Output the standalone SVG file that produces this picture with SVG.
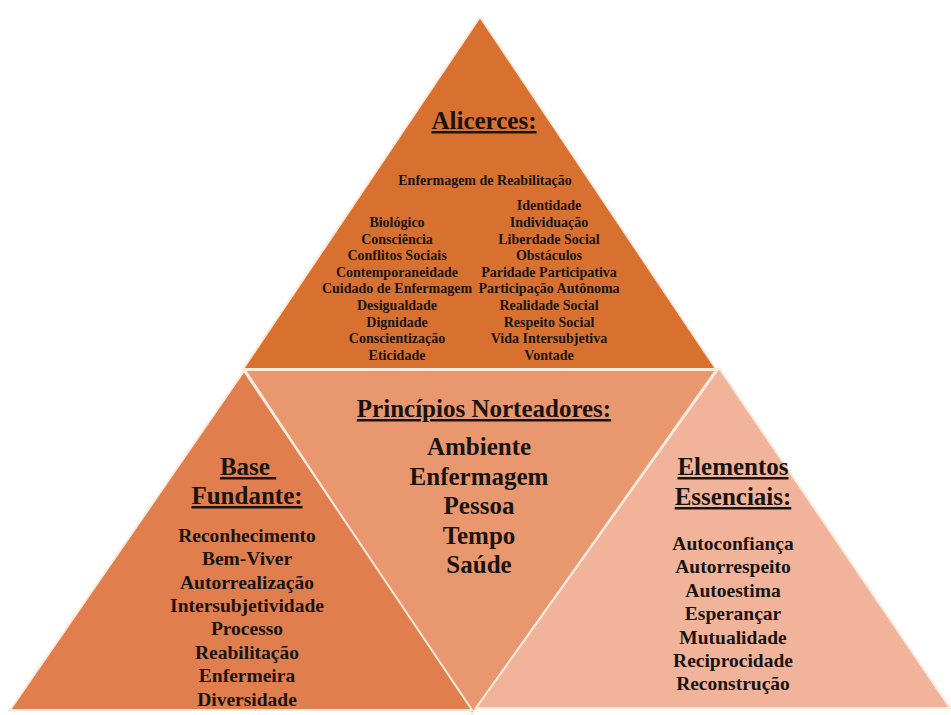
<svg xmlns="http://www.w3.org/2000/svg" width="951" height="715" viewBox="0 0 951 715">
  <style>
    .tri { stroke: #fdeadc; stroke-width: 2; stroke-linejoin: miter; }
    text { font-family: "Liberation Serif", "Times New Roman", serif; font-weight: bold; fill: #1a1410; text-anchor: middle; }
    .head { font-size: 25px; text-decoration: underline; }
    .big { font-size: 25px; }
    .mid { font-size: 19.5px; }
    .small { font-size: 14px; }
  </style>

  <rect width="951" height="715" fill="#ffffff"/>

  <!-- Centre: inverted triangle -->
  <g id="principios">
    <polygon class="tri" points="245,370 716,370 472,714" fill="#e8976f"/>
    <text class="head" x="484" y="417">Princípios Norteadores:</text>
    <text class="big" x="479" y="455">Ambiente</text>
    <text class="big" x="479" y="484.5">Enfermagem</text>
    <text class="big" x="479" y="514">Pessoa</text>
    <text class="big" x="479" y="543.5">Tempo</text>
    <text class="big" x="479" y="573">Saúde</text>
  </g>

  <!-- Top triangle -->
  <g id="alicerces">
    <polygon class="tri" points="480,17 243,369 716,369" fill="#d8712f"/>
    <text class="head" x="484" y="129">Alicerces:</text>
    <text class="small" x="485" y="184.5">Enfermagem de Reabilitação</text>
    <g class="left-col">
      <text class="small" x="397" y="227">Biológico</text>
      <text class="small" x="397" y="243.6">Consciência</text>
      <text class="small" x="397" y="260.2">Conflitos Sociais</text>
      <text class="small" x="397" y="276.8">Contemporaneidade</text>
      <text class="small" x="397" y="293.4">Cuidado de Enfermagem</text>
      <text class="small" x="397" y="310">Desigualdade</text>
      <text class="small" x="397" y="326.6">Dignidade</text>
      <text class="small" x="397" y="343.2">Conscientização</text>
      <text class="small" x="397" y="359.8">Eticidade</text>
    </g>
    <g class="right-col">
      <text class="small" x="549" y="210.4">Identidade</text>
      <text class="small" x="549" y="227">Individuação</text>
      <text class="small" x="549" y="243.6">Liberdade Social</text>
      <text class="small" x="549" y="260.2">Obstáculos</text>
      <text class="small" x="549" y="276.8">Paridade Participativa</text>
      <text class="small" x="549" y="293.4">Participação Autônoma</text>
      <text class="small" x="549" y="310">Realidade Social</text>
      <text class="small" x="549" y="326.6">Respeito Social</text>
      <text class="small" x="549" y="343.2">Vida Intersubjetiva</text>
      <text class="small" x="549" y="359.8">Vontade</text>
    </g>
  </g>

  <!-- Left triangle -->
  <g id="base-fundante">
    <polygon class="tri" points="244,371 10,710 472,710" fill="#e07e4e"/>
    <text class="head" x="248" y="475" style="white-space:pre">Base </text>
    <text class="head" x="247" y="504">Fundante:</text>
    <text class="mid" x="247" y="541.7">Reconhecimento</text>
    <text class="mid" x="247" y="565.1">Bem-Viver</text>
    <text class="mid" x="247" y="588.5">Autorrealização</text>
    <text class="mid" x="247" y="611.9">Intersubjetividade</text>
    <text class="mid" x="247" y="635.3">Processo</text>
    <text class="mid" x="247" y="658.7">Reabilitação</text>
    <text class="mid" x="247" y="682.1">Enfermeira</text>
    <text class="mid" x="247" y="705.5">Diversidade</text>
  </g>

  <!-- Right triangle -->
  <g id="elementos-essenciais">
    <polygon class="tri" points="719,368 476,708 950,708" fill="#f1b39a"/>
    <text class="head" x="733" y="475">Elementos</text>
    <text class="head" x="733" y="505">Essenciais:</text>
    <text class="mid" x="733" y="550">Autoconfiança</text>
    <text class="mid" x="733" y="573.4">Autorrespeito</text>
    <text class="mid" x="733" y="596.8">Autoestima</text>
    <text class="mid" x="733" y="620.2">Esperançar</text>
    <text class="mid" x="733" y="643.6">Mutualidade</text>
    <text class="mid" x="733" y="667">Reciprocidade</text>
    <text class="mid" x="733" y="690.4">Reconstrução</text>
  </g>
</svg>
